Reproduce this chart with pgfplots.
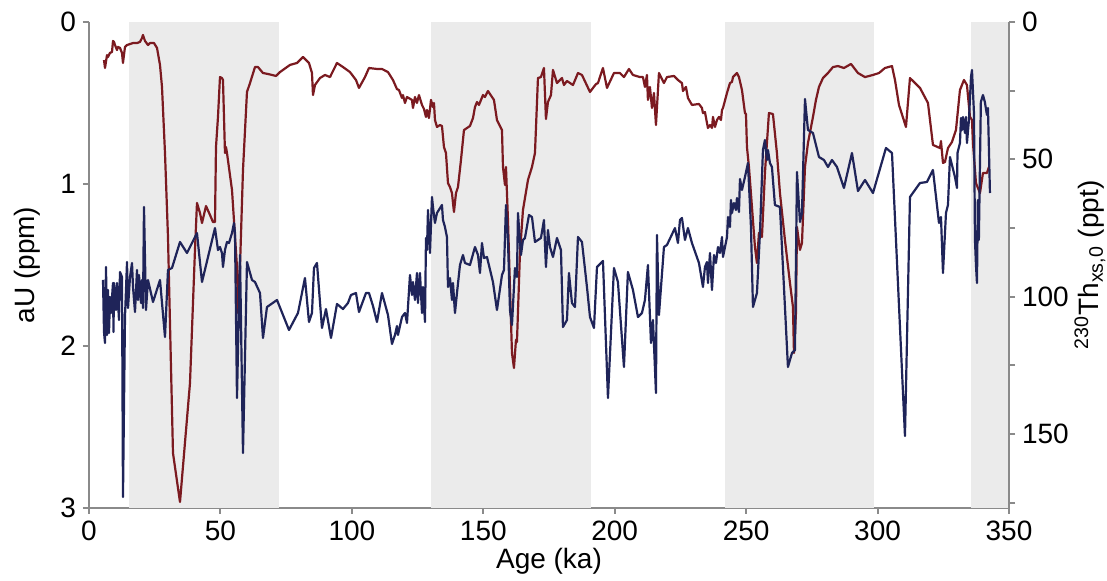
\documentclass[border=0pt]{standalone}
\usepackage{fontspec}
\setmainfont{Liberation Sans}
\usepackage{pgfplots}
\pgfplotsset{compat=1.18}

\definecolor{redline}{HTML}{7B1A20}
\definecolor{blueline}{HTML}{1F2459}
\definecolor{shade}{HTML}{EBEBEB}
\definecolor{axisgrey}{HTML}{8A8A8A}

\pgfplotsset{
  base/.style={
    width=460pt, height=243pt, scale only axis,
    at={(0,0)}, anchor=south west,
    xmin=0, xmax=350,
    y dir=reverse,
    tick align=outside, major tick length=3pt,
    /pgf/number format/assume math mode=true,
    tick label style={font=\fontsize{14}{16}\selectfont},
    label style={font=\fontsize{14}{16}\selectfont},
    axis line style={axisgrey, line width=1pt, -},
    tick style={axisgrey, line width=1pt},
  },
}

\begin{document}
\begin{tikzpicture}
\path[use as bounding box] (-44.5pt,-36.5pt) rectangle (509pt,254pt);

% aU, left axis
\begin{axis}[base,
  ymin=0, ymax=3,
  axis y line*=left, axis x line*=bottom,
  xtick={0,50,...,350}, ytick={0,1,2,3},
  xlabel={Age (ka)}, ylabel={aU (ppm)},
  xlabel style={at={(axis description cs:0.5,-0.11)}, anchor=center},
  ylabel style={at={(axis description cs:-0.067,0.5)}, anchor=center},
]
% glacial intervals
\addplot[fill=shade, draw=none] coordinates {(15.2,0) (72.3,0) (72.3,3) (15.2,3)} --cycle;
\addplot[fill=shade, draw=none] coordinates {(130.1,0) (190.8,0) (190.8,3) (130.1,3)} --cycle;
\addplot[fill=shade, draw=none] coordinates {(241.9,0) (298.6,0) (298.6,3) (241.9,3)} --cycle;
\addplot[fill=shade, draw=none] coordinates {(335.5,0) (350,0) (350,3) (335.5,3)} --cycle;

\addplot[redline, line width=1.1pt, line join=round] coordinates {
(5.71,0.235) (6.09,0.284) (6.85,0.204) (7.23,0.216) (7.99,0.191) (8.75,0.185)
(9.13,0.117) (9.51,0.123) (9.89,0.142) (10.65,0.173) (11.03,0.154) (11.79,0.160)
(12.55,0.191) (12.93,0.253) (13.69,0.154) (14.46,0.142) (15.60,0.136) (16.74,0.130)
(18.26,0.130) (19.40,0.123) (20.16,0.099) (20.54,0.080) (21.30,0.117) (22.44,0.142)
(23.20,0.130) (24.73,0.130) (25.87,0.160) (27.01,0.265) (27.77,0.401) (28.91,0.809)
(30.05,1.327) (31.95,2.661) (34.62,2.963) (38.42,2.228) (40.32,1.407) (41.08,1.117)
(42.22,1.179) (42.99,1.241) (44.51,1.136) (46.03,1.191) (47.17,1.235) (47.93,1.235)
(48.31,0.772) (49.07,0.586) (49.83,0.340) (50.59,0.346) (50.97,0.358) (51.73,0.809)
(52.11,0.772) (52.50,0.809) (54.40,1.037) (56.30,1.512) (56.68,1.796) (57.44,1.512)
(58.58,0.914) (60.10,0.432) (61.25,0.377) (63.15,0.278) (64.29,0.278) (66.19,0.315)
(68.09,0.321) (71.14,0.333) (72.66,0.309) (76.46,0.265) (79.12,0.253) (81.41,0.216)
(83.69,0.253) (84.83,0.315) (85.21,0.451) (85.97,0.389) (87.87,0.346) (89.77,0.327)
(91.68,0.340) (94.34,0.253) (96.62,0.278) (99.28,0.309) (101.57,0.358) (102.71,0.407)
(104.99,0.340) (106.51,0.284) (109.56,0.290) (111.46,0.290) (113.74,0.309) (115.64,0.358)
(117.16,0.414) (117.92,0.420) (119.07,0.469) (119.45,0.451) (120.21,0.500) (120.97,0.463)
(122.87,0.481) (123.25,0.531) (124.01,0.463) (124.77,0.500) (125.53,0.451) (126.68,0.512)
(127.44,0.537) (128.20,0.586) (128.58,0.543) (129.34,0.593) (130.10,0.481) (130.86,0.525)
(131.24,0.500) (131.62,0.605) (132.38,0.648) (133.52,0.636) (134.28,0.642) (135.04,0.772)
(135.80,0.809) (136.57,0.994) (137.33,1.019) (138.09,1.056) (138.47,1.117) (138.85,1.173)
(139.61,1.056) (140.37,1.019) (141.51,0.852) (142.65,0.667) (144.93,0.642) (146.08,0.593)
(146.84,0.525) (147.60,0.494) (148.36,0.512) (149.88,0.451) (150.64,0.463) (151.78,0.426)
(154.06,0.481) (155.20,0.605) (157.11,0.667) (157.49,0.895) (158.25,1.006) (158.63,0.895)
(159.39,1.222) (160.15,1.636) (160.91,2.043) (161.67,2.136) (162.43,1.963) (162.81,1.975)
(163.95,1.426) (165.09,1.161) (167.00,0.975) (168.52,0.895) (169.66,0.809) (170.80,0.346)
(171.94,0.340) (173.08,0.284) (173.84,0.599) (174.60,0.494) (175.75,0.451) (176.51,0.296)
(178.03,0.377) (179.93,0.346) (180.69,0.389) (181.83,0.364) (184.12,0.389) (186.02,0.315)
(187.54,0.327) (190.59,0.432) (192.87,0.383) (193.63,0.377) (195.53,0.284) (197.05,0.407)
(199.71,0.315) (201.99,0.315) (203.51,0.340) (205.42,0.290) (206.94,0.327) (209.60,0.340)
(210.74,0.340) (211.50,0.401) (212.26,0.327) (212.64,0.481) (213.40,0.401) (214.17,0.531)
(214.93,0.438) (215.69,0.636) (216.83,0.315) (218.73,0.377) (219.87,0.340) (222.54,0.333)
(224.06,0.358) (225.58,0.377) (225.96,0.426) (227.10,0.401) (227.86,0.469) (229.38,0.512)
(232.05,0.506) (233.19,0.531) (233.57,0.562) (234.33,0.556) (235.09,0.623) (235.47,0.654)
(236.24,0.636) (237.00,0.654) (237.38,0.586) (238.14,0.648) (238.90,0.605) (239.66,0.586)
(240.42,0.605) (240.81,0.543) (241.19,0.531) (242.71,0.438) (243.84,0.377) (244.61,0.370)
(244.99,0.340) (246.50,0.315) (247.27,0.340) (248.41,0.420) (249.55,0.562) (249.93,0.568)
(250.31,0.772) (251.07,0.895) (252.21,1.142) (253.35,1.389) (254.11,1.488) (254.87,1.302)
(256.01,1.327) (257.15,0.932) (258.67,0.562) (260.19,0.568) (261.71,0.809) (262.86,1.056)
(264.76,1.346) (266.67,1.611) (267.81,1.759) (268.19,2.043) (268.95,1.796) (269.33,1.265)
(270.47,1.407) (271.24,1.364) (272.38,0.895) (273.52,0.747) (275.42,0.586) (276.56,0.481)
(277.70,0.401) (279.22,0.346) (281.13,0.315) (283.03,0.278) (284.93,0.272) (287.21,0.284)
(289.88,0.259) (292.54,0.315) (295.21,0.340) (298.25,0.327) (300.53,0.315) (302.81,0.284)
(305.48,0.272) (306.62,0.358) (308.14,0.512) (310.80,0.648) (312.32,0.346) (316.13,0.407)
(319.17,0.500) (321.07,0.759) (323.74,0.778) (324.12,0.735) (324.88,0.870) (325.64,0.864)
(326.78,0.778) (328.30,0.741) (329.82,0.667) (331.34,0.420) (332.86,0.358) (334.00,0.389)
(335.15,0.586) (335.91,0.605) (336.29,0.747) (337.43,0.994) (338.95,1.056) (340.09,0.932)
(341.61,0.932) (342.37,0.895)
};
\end{axis}

% 230Th xs,0, right axis
\begin{axis}[base,
  ymin=0, ymax=177,
  axis y line*=right, axis x line=none,
  ytick={0,25,...,175}, yticklabels={0,,50,,100,,150,},
  ylabel={\textsuperscript{230}Th\textsubscript{xs,0} (ppt)},
  ylabel style={at={(axis description cs:1.088,0.5)}, anchor=center},
]
\addplot[blueline, line width=1.1pt, line join=round] coordinates {
(5.33,93.96) (5.71,112.90) (6.09,116.91) (6.47,89.23) (6.85,114.00) (7.23,97.61)
(7.61,113.27) (7.99,100.16) (8.37,105.98) (9.13,95.06) (9.32,112.90) (9.51,95.06)
(10.27,104.89) (10.65,95.06) (11.41,108.53) (11.79,91.05) (12.55,92.87) (12.93,173.00)
(13.69,107.44) (14.46,87.41) (14.84,104.16) (15.60,92.87) (16.36,87.77) (16.74,96.51)
(17.50,105.62) (18.26,90.32) (18.64,101.25) (19.02,92.14) (19.78,102.34) (20.16,93.96)
(20.54,104.16) (20.92,67.38) (21.68,104.89) (22.44,93.96) (24.35,101.98) (27.01,93.96)
(28.91,114.72) (30.05,90.32) (31.57,89.59) (34.62,80.12) (37.28,84.13) (41.08,76.85)
(42.99,94.69) (47.93,75.03) (49.07,83.04) (49.83,81.95) (50.59,84.13) (50.97,89.23)
(51.73,83.04) (52.50,80.12) (53.26,80.49) (54.40,76.85) (55.16,73.20) (55.54,76.85)
(56.30,136.94) (57.44,84.86) (58.58,156.97) (60.10,87.41) (62.01,93.96) (63.15,94.69)
(65.05,98.70) (66.19,115.09) (67.71,103.80) (71.52,101.25) (76.08,112.17) (79.50,105.98)
(82.16,93.24) (83.69,109.26) (84.83,105.98) (85.59,89.59) (86.73,87.77) (88.63,111.45)
(90.15,104.53) (92.06,115.09) (94.34,102.70) (96.62,104.53) (98.52,102.34) (99.66,99.43)
(101.57,98.70) (102.71,105.62) (105.37,98.70) (106.51,98.70) (108.04,103.43) (109.56,109.26)
(111.46,98.70) (113.74,106.71) (115.26,117.27) (116.40,114.00) (117.16,110.72) (117.54,114.00)
(119.07,107.44) (120.21,105.98) (120.97,109.62) (122.11,92.14) (122.87,99.43) (123.25,94.69)
(124.01,101.25) (124.77,91.41) (125.15,102.34) (125.91,91.41) (126.68,105.98) (127.06,96.51)
(127.82,109.26) (128.20,78.67) (128.58,83.04) (128.96,68.47) (129.72,84.13) (130.48,63.74)
(130.86,67.38) (131.62,73.20) (132.38,69.56) (134.28,66.65) (134.66,72.11) (135.42,74.66)
(136.18,78.30) (136.57,96.51) (137.33,93.24) (138.09,101.25) (138.47,95.06) (139.23,105.98)
(139.99,98.70) (141.13,88.50) (142.27,84.86) (143.03,87.77) (144.93,88.50) (146.84,81.95)
(147.98,84.86) (148.74,91.41) (149.50,80.49) (150.26,85.95) (151.40,85.59) (153.68,94.69)
(155.20,104.89) (157.11,92.14) (157.87,90.32) (158.63,66.65) (159.39,79.39) (160.15,104.89)
(160.91,110.35) (162.05,89.59) (162.81,92.87) (163.19,69.56) (164.33,84.86) (165.09,79.39)
(165.85,78.67) (167.38,70.29) (168.52,71.02) (169.66,80.12) (170.80,79.39) (171.94,78.67)
(173.08,72.11) (173.84,89.23) (174.60,75.75) (175.37,81.95) (176.51,85.59) (178.03,78.67)
(179.55,83.04) (180.31,111.08) (181.83,108.53) (182.59,91.41) (183.73,102.34) (184.88,103.80)
(186.02,78.30) (187.54,80.12) (189.44,96.51) (190.59,107.44) (192.11,111.45) (193.25,89.23)
(195.53,87.04) (197.43,136.94) (199.71,89.59) (201.22,94.69) (203.51,125.65) (205.02,91.05)
(206.94,97.61) (208.84,107.44) (210.36,105.98) (211.50,101.25) (212.64,88.50) (213.79,116.91)
(214.55,108.53) (215.69,135.12) (216.07,77.57) (216.83,106.71) (218.73,81.95) (219.87,81.22)
(222.92,75.03) (224.06,80.49) (224.82,72.11) (225.58,71.38) (226.72,79.39) (227.86,75.03)
(229.38,80.49) (232.05,87.77) (233.57,96.51) (234.33,89.23) (235.09,87.41) (235.47,95.06)
(236.24,84.13) (237.00,97.61) (237.76,84.86) (238.52,87.77) (239.28,81.95) (240.04,84.13)
(240.81,78.30) (241.19,85.59) (242.71,78.30) (243.09,71.02) (243.84,74.66) (244.22,64.83)
(244.61,69.56) (245.36,65.92) (246.12,68.47) (246.50,64.10) (247.27,69.20) (247.65,57.18)
(248.41,61.19) (249.55,56.45) (250.69,51.35) (251.83,74.66) (252.59,103.80) (254.11,98.70)
(255.25,76.85) (256.39,46.62) (257.15,42.98) (257.91,50.26) (258.29,46.62) (259.05,51.35)
(259.81,52.81) (260.95,66.65) (262.86,67.38) (265.90,125.65) (267.43,120.55) (268.57,119.46)
(269.33,54.63) (270.47,72.84) (271.24,69.56) (272.38,28.04) (273.52,39.33) (275.42,40.43)
(277.70,49.17) (279.60,50.26) (281.13,52.81) (282.65,50.26) (284.55,52.81) (287.21,60.46)
(290.26,47.71) (292.54,61.55) (295.21,57.54) (298.25,62.28) (303.19,45.89) (305.48,47.71)
(310.42,150.78) (312.32,63.74) (314.22,61.19) (316.13,58.64) (318.79,58.27) (321.07,53.90)
(323.36,73.20) (324.12,71.02) (324.88,91.41) (326.02,69.56) (326.78,66.65) (327.54,49.17)
(329.44,56.45) (330.21,60.46) (330.40,47.71) (331.34,44.07) (331.72,34.96) (332.10,39.33)
(332.48,34.60) (333.24,40.43) (333.62,34.60) (334.00,44.07) (334.76,35.69) (335.53,20.03)
(335.91,17.48) (336.67,33.14) (337.05,79.39) (337.43,88.50) (337.81,95.06) (338.15,64.83)
(338.53,79.39) (339.29,29.14) (340.09,26.59) (340.81,29.14) (341.61,33.87) (341.99,31.32)
(342.75,62.28)
};
\end{axis}
\end{tikzpicture}
\end{document}
